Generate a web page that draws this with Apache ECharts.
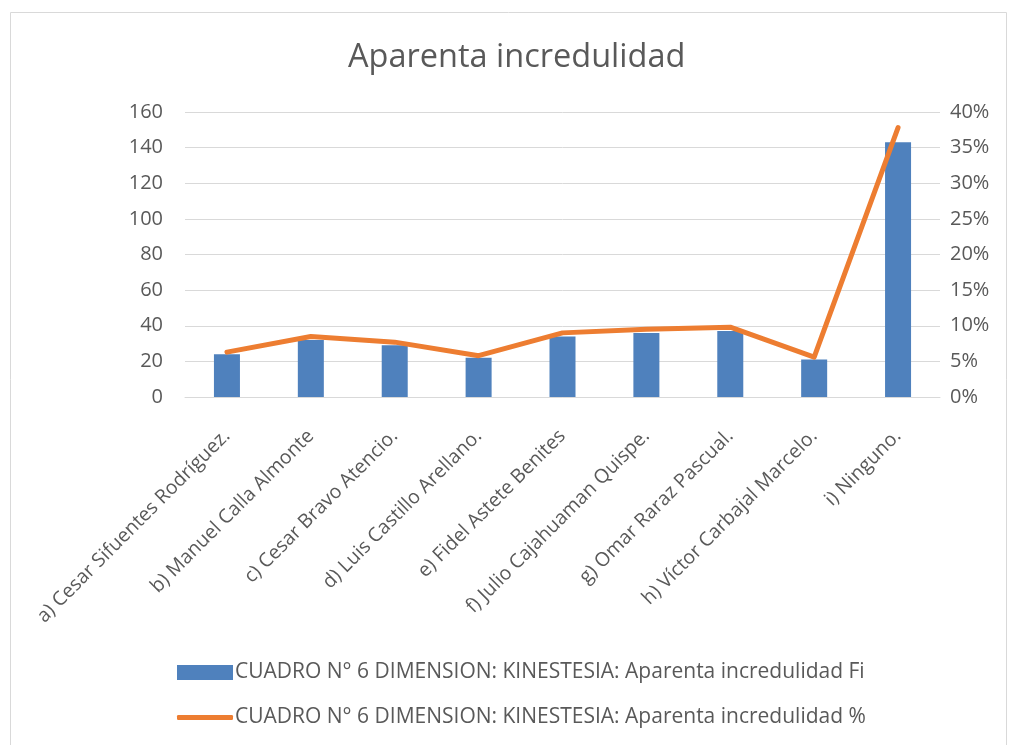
<!DOCTYPE html>
<html><head><meta charset="utf-8">
<script src="https://cdn.jsdelivr.net/npm/echarts@6/dist/echarts.min.js"></script>
<style>html,body{margin:0;padding:0;background:#fff}#c{width:1017px;height:745px}</style>
</head><body><div id="c"></div>
<script>
const categories = ["a) Cesar Sifuentes Rodríguez.","b) Manuel Calla Almonte","c) Cesar Bravo Atencio.","d) Luis Castillo Arellano.","e) Fidel Astete Benites","f) Julio Cajahuaman Quispe.","g) Omar Raraz Pascual.","h) Víctor Carbajal Marcelo.","i) Ninguno."];
const fiValues = [24, 32, 29, 22, 34, 36, 37, 21, 143];
const pctValues = [6.3, 8.5, 7.7, 5.8, 9.0, 9.5, 9.8, 5.6, 37.8];
const leftTicks = [0, 160, 20];
const rightTicks = [0, 40, 5];
const barName = "CUADRO N° 6 DIMENSION: KINESTESIA: Aparenta incredulidad Fi";
const lineName = "CUADRO N° 6 DIMENSION: KINESTESIA: Aparenta incredulidad %";
const titleText = "Aparenta incredulidad";

const font = "'Open Sans',sans-serif";
const chart = echarts.init(document.getElementById('c'));
chart.setOption({
  animation:false,
  textStyle:{fontFamily:font},
  graphic:[{type:'rect',shape:{x:10.5,y:12.5,width:996,height:740},style:{fill:'none',stroke:'#d9d9d9',lineWidth:1},silent:true}],
  title:{text:titleText,left:343,top:36,textStyle:{fontFamily:font,fontSize:32.5,fontWeight:'normal',color:'#595959'}},
  grid:{left:185,right:77,top:112,bottom:348,containLabel:false},
  legend:[
    {data:[{name:barName,icon:'rect'}],orient:'vertical',left:172,top:657,itemWidth:56,itemHeight:15,itemGap:2,textStyle:{fontFamily:font,fontSize:21,color:'#595959',padding:[0,0,0,-3]}},
    {data:[{name:lineName,icon:'roundRect'}],orient:'vertical',left:172,top:702,itemWidth:56,itemHeight:5,textStyle:{fontFamily:font,fontSize:21,color:'#595959',padding:[0,0,0,-3]}}
  ],
  xAxis:{type:'category',data:categories,
    axisLine:{lineStyle:{color:'#d9d9d9',width:1}},axisTick:{show:false},
    axisLabel:{rotate:45,interval:0,fontSize:19.5,color:'#595959',margin:36,fontFamily:font}},
  yAxis:[
    {type:'value',min:leftTicks[0],max:leftTicks[1],interval:leftTicks[2],
     axisLine:{show:false},axisTick:{show:false},
     splitLine:{lineStyle:{color:'#d9d9d9',width:1}},
     axisLabel:{fontSize:20,color:'#595959',margin:22,fontFamily:font}},
    {type:'value',min:rightTicks[0],max:rightTicks[1],interval:rightTicks[2],
     axisLine:{show:false},axisTick:{show:false},splitLine:{show:false},
     axisLabel:{fontSize:20,color:'#595959',margin:10,formatter:'{value}%',fontFamily:font}}
  ],
  series:[
    {name:barName,type:'bar',data:fiValues,barWidth:'31%',itemStyle:{color:'#4f81bd'},yAxisIndex:0},
    {name:lineName,type:'line',data:pctValues,yAxisIndex:1,symbol:'none',lineStyle:{color:'#ed7d31',width:5,cap:'round',join:'round'},itemStyle:{color:'#ed7d31'}}
  ]
});
</script></body></html>
